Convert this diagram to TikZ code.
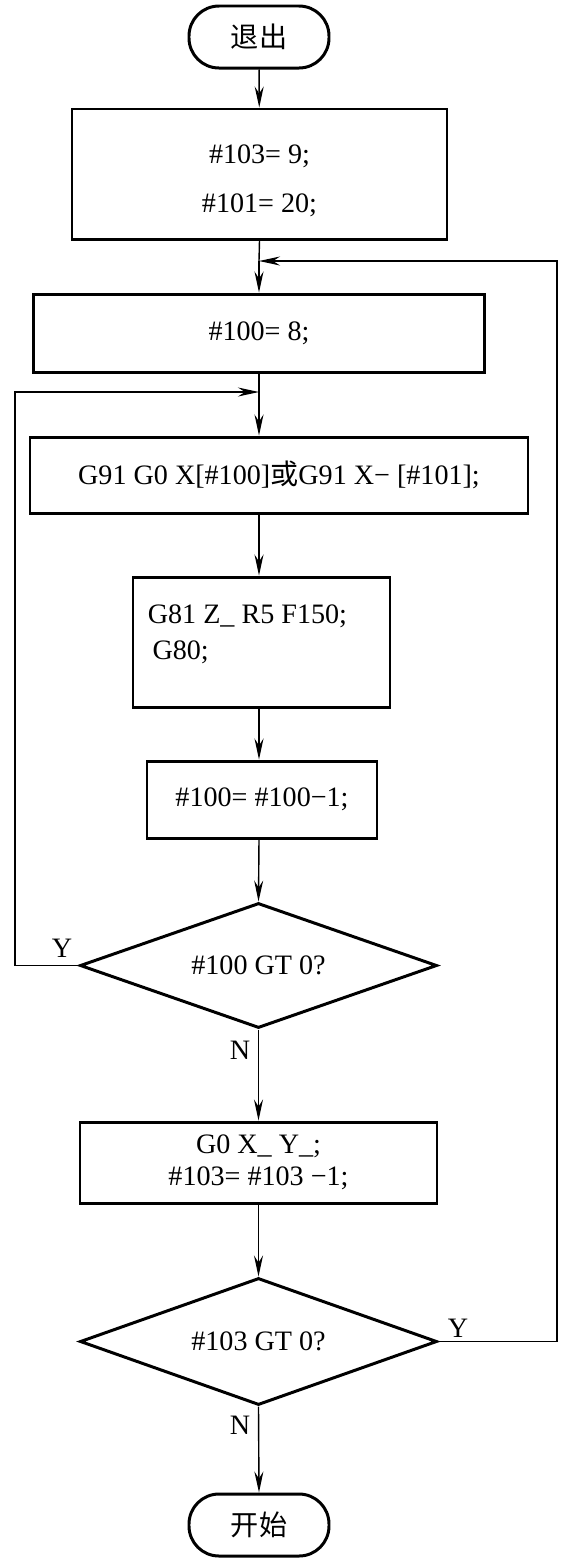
\documentclass[tikz,border=0pt]{standalone}
\usepackage{fontspec}
\setmainfont{Liberation Serif}
\newfontfamily\cjk{Noto Sans CJK SC}
\usetikzlibrary{arrows.meta, positioning, shapes, calc}

\begin{document}
\begin{tikzpicture}[
    font=\fontsize{16pt}{20pt}\selectfont,
    term/.style={rectangle, draw=black, line width=1.7pt, rounded corners=0.6cm, minimum width=2.8cm, minimum height=1.24cm, font=\fontsize{16pt}{20pt}\selectfont\cjk},
    box/.style={rectangle, draw=black, line width=1.7pt, align=center},
    decide/.style={diamond, draw=black, line width=1.7pt, inner sep=0pt, aspect=2.86, minimum width=7.14cm, minimum height=2.5cm},
    arrow/.style={-{Stealth[length=4.2mm, width=1.8mm, inset=1.4mm]}, line width=0.8pt},
    line/.style={line width=0.8pt},
    yn/.style={inner sep=0pt},
]
\useasboundingbox (0,0) rectangle (11.76,-31.28);

% ===== Start of program =====
\node[term] (exit) at (5.18, -0.74) {退出};
\node[box, minimum width=7.5cm, minimum height=2.6cm] (init) at (5.19, -3.48) {};
\node[align=center, inner sep=0pt] (inittxt) at (5.19, -3.61) {\#103= 9;\\[8pt]\#101= 20;};
\node[box, minimum width=9.02cm, minimum height=1.56cm] (setrow) at (5.18, -6.66) {\#100= 8;};

% ===== Inner loop =====
\node[box, minimum width=9.96cm, minimum height=1.52cm] (move) at (5.58, -9.5) {G91 G0 X[\#100]{\cjk 或}G91 X− [\#101];};
\node[box, minimum width=5.14cm, minimum height=2.6cm] (drill) at (5.23, -12.84) {};
\node[align=left, anchor=north west, inner sep=0pt] (drilltxt) at (2.95, -12.08) {G81 Z\_ R5 F150;\\[1pt]\,G80;};
\node[box, minimum width=4.6cm, minimum height=1.54cm] (dec100) at (5.24, -15.99) {\#100= \#100−1;};
\node[decide] (test100) at (5.17, -19.31) {\#100 GT 0?};

% ===== Outer loop =====
\node[box, minimum width=7.14cm, minimum height=1.62cm] (next) at (5.17, -23.25) {G0 X\_ Y\_;\\[-2pt]\#103= \#103 −1;};
\node[decide, minimum height=2.54cm] (test103) at (5.17, -26.83) {\#103 GT 0?};
\node[term] (start) at (5.18, -30.5) {开始};

% ===== Junctions =====
\coordinate (jin) at (5.18, -7.84);
\coordinate (jout) at (5.18, -5.22);

% ===== Arrows =====
\draw[arrow] (exit) -- (init);
\draw[line] (init.south) -- (jout);
\draw[arrow] (jout) -- (setrow.north);
\draw[line] (setrow.south) -- (jin);
\draw[arrow] (jin) -- (jin |- move.north);
\draw[arrow] (jin |- move.south) -- (jin |- drill.north);
\draw[arrow] (jin |- drill.south) -- (jin |- dec100.north);
\draw[arrow] (jin |- dec100.south) -- (test100.north);
\draw[arrow] (test100.south) -- (next.north);
\draw[arrow] (next.south) -- (test103.north);
\draw[arrow] (test103.south) -- (start.north);

% ===== Loop back =====
\draw[arrow] (test100.west) -- (0.3, -19.31) |- (jin);
\draw[arrow] (test103.east) -- (11.14, -26.83) |- (jout);

% ===== Y / N =====
\node[yn] (y100) at (1.24, -18.96) {Y};
\node[yn] (n100) at (4.8, -21.0) {N};
\node[yn] (y103) at (9.16, -26.56) {Y};
\node[yn] (n103) at (4.8, -28.5) {N};

\end{tikzpicture}
\end{document}
